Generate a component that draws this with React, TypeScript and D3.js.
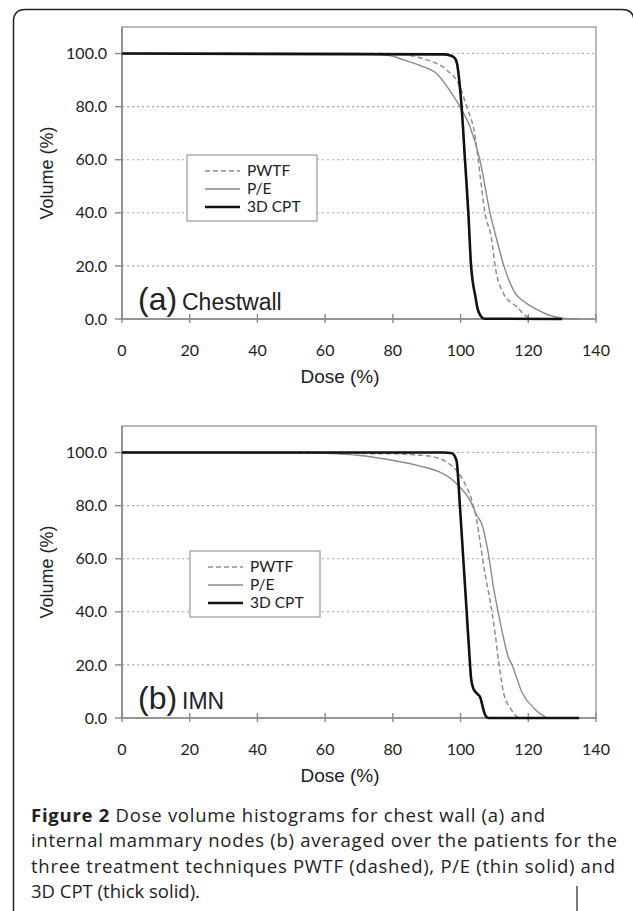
import React from 'react';
import * as d3 from 'd3';

// ---- data ----
const doseTicks = [0, 20, 40, 60, 80, 100, 120, 140];
const volumeTicks = [0, 20, 40, 60, 80, 100];
const gridTicks = [20, 40, 60, 80, 100];

const seriesNames = ['PWTF', 'P/E', '3D CPT'];

// (a) Chestwall
const cwDosePWTF = [0, 77, 85, 90, 95.9, 99.8, 101.8, 104.3, 105.2, 107.2, 109.2, 110.2, 112.6, 116.6, 120.4, 122];
const cwVolPWTF = [100, 100, 99.3, 97.6, 93.8, 87.5, 80, 68.7, 60, 40, 29.8, 20, 9.8, 4.6, 0.3, 0];
const cwDosePE = [0, 70, 74, 80, 83.1, 88, 92.9, 97.4, 99.8, 102.8, 105.7, 108.7, 110.7, 112.8, 115.6, 119.5, 122.5, 126, 130, 135];
const cwVolPE = [100, 100, 99.7, 99, 97.6, 95.5, 92.5, 85, 80, 72.4, 60, 40, 29.8, 20, 10.9, 5.9, 3.6, 1.5, 0.3, 0];
const cwDoseCPT = [0, 95, 97, 98.3, 99, 99.6, 100.3, 101.3, 102.3, 103.1, 103.6, 104.3, 105, 106, 107, 130];
const cwVolCPT = [100, 99.7, 99.3, 98.3, 96, 90, 80, 60, 40, 20, 14, 9, 4, 1, 0.1, 0];

// (b) IMN
const imDosePWTF = [0, 81, 88, 92, 95.9, 98.8, 100.8, 103.3, 104.8, 105.7, 107.2, 108.7, 110.2, 111.2, 112.7, 114.8, 117, 119];
const imVolPWTF = [100, 99.5, 99, 98.4, 96.4, 93.2, 89.5, 82, 74.4, 66.9, 54.4, 44.4, 31.9, 21.8, 9.5, 3.5, 0.3, 0];
const imDosePE = [0, 55, 62, 70.3, 80.1, 88, 93.9, 97.8, 99.8, 102.8, 104.8, 106.2, 108.2, 109.7, 111.6, 114.1, 115.2, 118.2, 121.8, 125.5];
const imVolPE = [100, 100, 99.6, 98.9, 97, 94.9, 92.6, 89.5, 87, 82, 76.3, 73.3, 62, 49.4, 36.8, 23, 20, 9.5, 3.5, 0];
const imDoseCPT = [0, 95, 97.4, 98.8, 99.8, 100.8, 101.8, 102.7, 103.1, 103.8, 104.8, 105.8, 106.4, 107, 107.8, 108.3, 135];
const imVolCPT = [100, 100, 99.7, 97, 80, 60, 40, 22, 15, 11, 9.3, 7.8, 5, 2, 0.2, 0, 0];

const captionLines = [
  'Dose volume histograms for chest wall (a) and',
  'internal mammary nodes (b) averaged over the patients for the',
  'three treatment techniques PWTF (dashed), P/E (thin solid) and',
  '3D CPT (thick solid).',
];
// measured widths of the wrapped caption lines
const captionWidths = [514, 586, 584, undefined];

const W = 633;
const H = 911;
const tickFont = 'Lato, "Open Sans", sans-serif';
const arialFont = '"Liberation Sans", Arial, sans-serif';

const styles = [
  { stroke: '#8f8f8f', width: 1.5, dash: '5,3' },
  { stroke: '#8a8a8a', width: 1.4, dash: undefined },
  { stroke: '#111', width: 2.6, dash: undefined },
];

interface PanelProps {
  top: number;
  tag: string;
  name: string;
  curves: [number[], number[]][];
  legendDx: number;
  legendDy: number;
}

const Panel: React.FC<PanelProps> = ({ top, tag, name, curves, legendDx, legendDy }) => {
  const x = d3.scaleLinear().domain([0, 140]).range([122, 596]);
  const y = d3.scaleLinear().domain([0, 110]).range([top + 292, top]);
  const line = d3.line<[number, number]>()
    .x(d => x(d[0]))
    .y(d => y(d[1]))
    .curve(d3.curveMonotoneX);

  const lx = 187 + legendDx;
  const ly = 155 + legendDy;

  return (
    <g>
      {/* gridlines */}
      {gridTicks.map(t => (
        <line key={t} x1={x(0)} x2={x(140)} y1={y(t)} y2={y(t)}
          stroke="#a8a8a8" strokeWidth={1.1} strokeDasharray="2,3" />
      ))}
      {/* plot frame */}
      <rect x={x(0)} y={y(110)} width={x(140) - x(0)} height={y(0) - y(110)}
        fill="none" stroke="#a3a3a3" strokeWidth={1.5} />
      <line x1={x(0)} x2={x(0)} y1={y(110)} y2={y(0)} stroke="#8a8a8a" strokeWidth={1.6} />
      <line x1={x(0)} x2={x(140)} y1={y(0)} y2={y(0)} stroke="#8a8a8a" strokeWidth={1.6} />

      {/* y axis */}
      {volumeTicks.map(t => (
        <g key={t}>
          <line x1={x(0) - 7} x2={x(0)} y1={y(t)} y2={y(t)} stroke="#8a8a8a" strokeWidth={1.4} />
          <text x={107} y={y(t)} dy="0.35em" textAnchor="end" fontFamily={tickFont}
            fontSize={16} fill="#222">{t.toFixed(1)}</text>
        </g>
      ))}
      {/* x axis */}
      {doseTicks.map(t => (
        <g key={t}>
          <line x1={x(t)} x2={x(t)} y1={y(0) - 5} y2={y(0) + 4} stroke="#8a8a8a" strokeWidth={1.4} />
          <text x={x(t)} y={y(0) + 37} textAnchor="middle" fontFamily={tickFont}
            fontSize={16} fill="#222">{t}</text>
        </g>
      ))}
      <text x={340} y={y(0) + 64} textAnchor="middle" fontFamily={arialFont}
        fontSize={19} fill="#222">Dose (%)</text>
      <text transform={`translate(53,${(y(0) + y(110)) / 2}) rotate(-90)`} textAnchor="middle"
        fontFamily={arialFont} fontSize={18} fill="#222">Volume (%)</text>

      {/* curves */}
      {curves.map(([dose, vol], i) => (
        <path key={i}
          d={line(dose.map((d, j) => [d, vol[j]] as [number, number])) || ''}
          fill="none" stroke={styles[i].stroke} strokeWidth={styles[i].width}
          strokeDasharray={styles[i].dash} strokeLinejoin="round" />
      ))}

      {/* legend */}
      <rect x={lx} y={ly} width={130} height={66} fill="#fff" stroke="#9a9a9a" strokeWidth={1.2} />
      {seriesNames.map((s, i) => (
        <g key={s}>
          <line x1={lx + 18} x2={lx + 53} y1={ly + 16 + i * 18} y2={ly + 16 + i * 18}
            stroke={styles[i].stroke} strokeWidth={styles[i].width} strokeDasharray={styles[i].dash} />
          <text x={lx + 60} y={ly + 16 + i * 18} dy="0.35em" fontFamily={tickFont}
            fontSize={15.5} fill="#222">{s}</text>
        </g>
      ))}

      {/* panel tag */}
      <text x={138} y={top + 283} fontFamily={arialFont} fontSize={32} fill="#222">{tag}</text>
      <text x={182} y={top + 283} fontFamily={arialFont} fontSize={23} fill="#222">{name}</text>
    </g>
  );
};

export default function App() {
  return (
    <svg width={W} height={H} viewBox={`0 0 ${W} ${H}`}
      style={{ position: 'absolute', left: 0, top: 0, background: '#fff' }}>
      {/* outer frame */}
      <path d={`M13.5,${H} L13.5,21.5 Q13.5,9.5 25.5,9.5 L622,9.5 Q634,9.5 634,21.5 L634,${H}`}
        fill="none" stroke="#222" strokeWidth={1.5} />
      <line x1={577} x2={577} y1={886} y2={H} stroke="#222" strokeWidth={1.2} />

      <Panel top={27} tag="(a)" name="Chestwall" legendDx={0} legendDy={0}
        curves={[[cwDosePWTF, cwVolPWTF], [cwDosePE, cwVolPE], [cwDoseCPT, cwVolCPT]]} />
      <Panel top={426} tag="(b)" name="IMN" legendDx={3} legendDy={396}
        curves={[[imDosePWTF, imVolPWTF], [imDosePE, imVolPE], [imDoseCPT, imVolCPT]]} />

      {/* caption */}
      <g fontFamily='"Open Sans", "Noto Sans", sans-serif' fontSize={18.5} fill="#222">
        {captionLines.map((l, i) => (
          <text key={i} x={31} y={822 + i * 25.4} textLength={captionWidths[i]}>
            {i === 0 ? <tspan fontWeight="bold">Figure 2 </tspan> : null}
            {l}
          </text>
        ))}
      </g>
    </svg>
  );
}
